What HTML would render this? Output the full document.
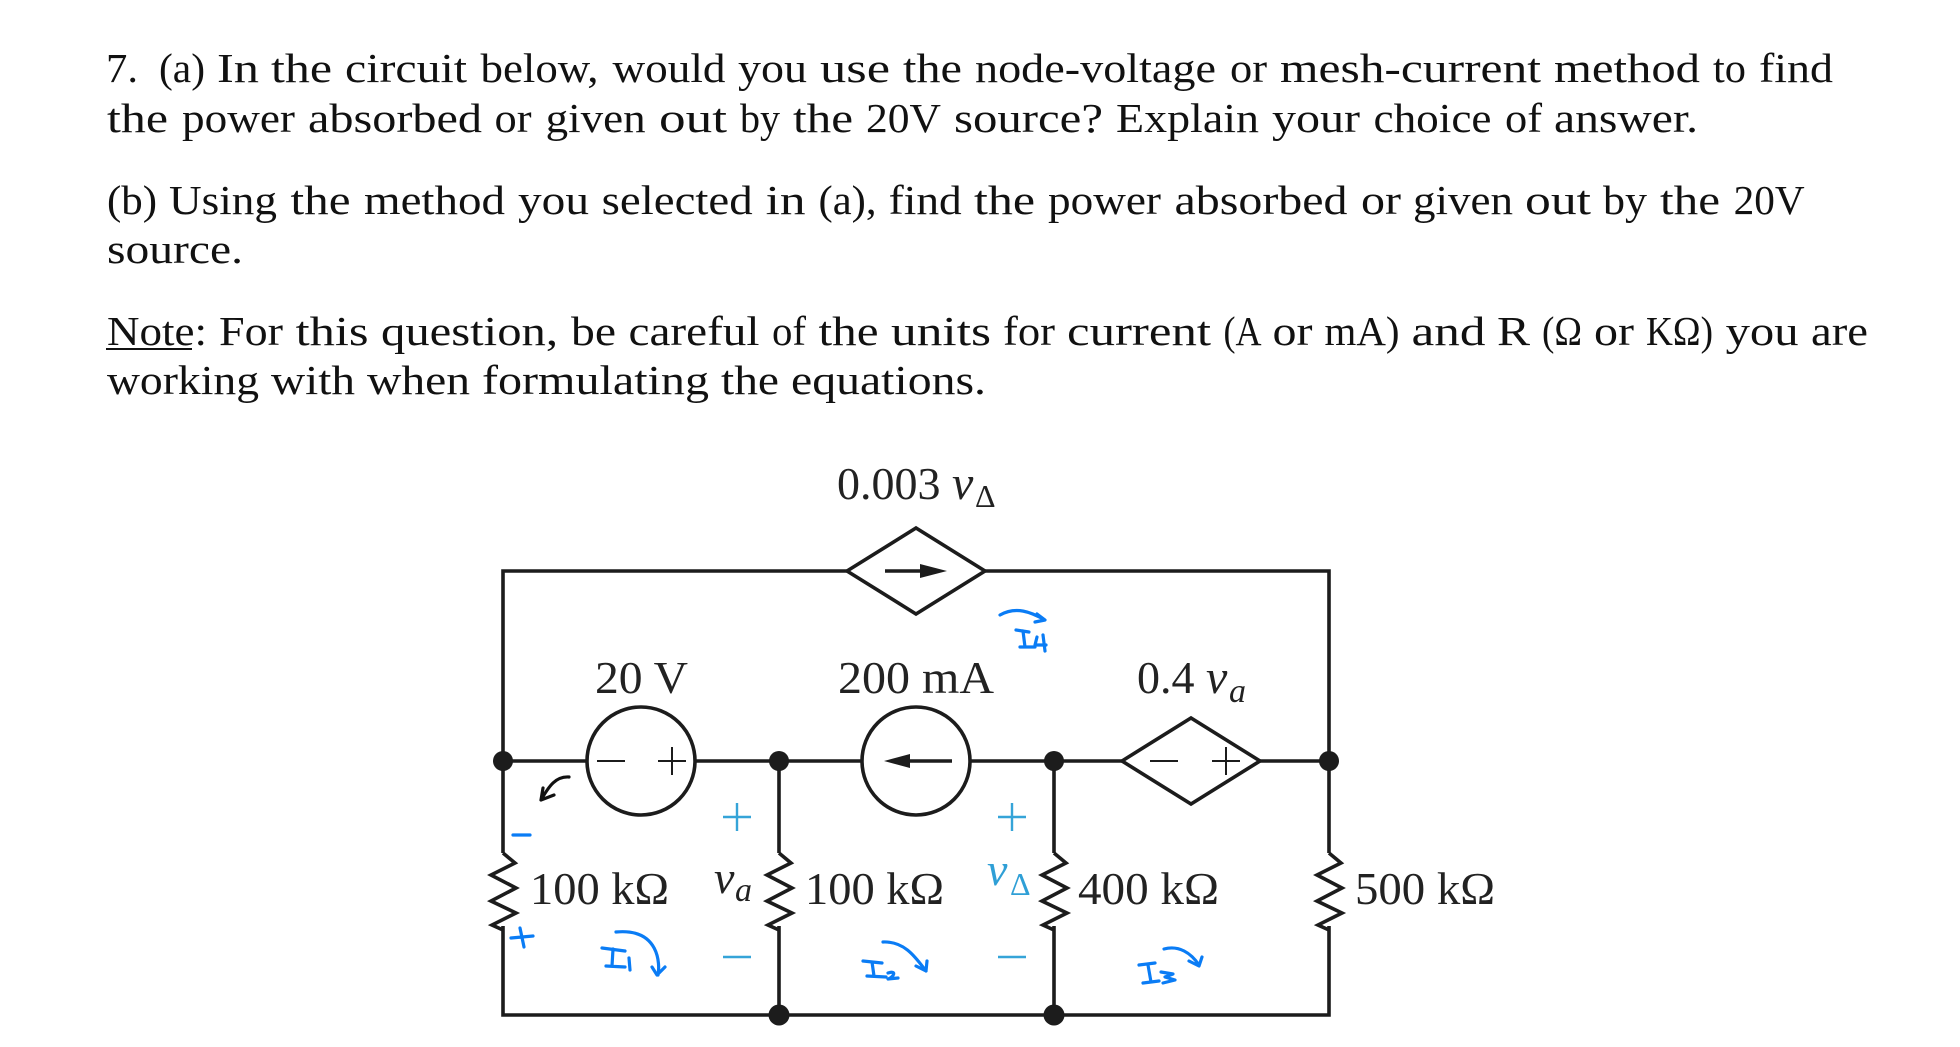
<!DOCTYPE html>
<html><head><meta charset="utf-8"><style>
html,body{margin:0;padding:0;background:#fff;width:1960px;height:1047px;overflow:hidden}
svg{display:block}
.q{font-family:"Liberation Serif",serif;font-size:41px;fill:#111}
.c{font-family:"Liberation Serif",serif;font-size:46px;fill:#222}
.i{font-style:italic}
.w{fill:none;stroke:#1c1c1c;stroke-width:3.6;stroke-linejoin:miter}
.t{fill:none;stroke:#1c1c1c;stroke-width:2}
.h{fill:none;stroke:#0a7cf5;stroke-width:3.2;stroke-linecap:round;stroke-linejoin:round}
.p{fill:none;stroke:#35a4d8;stroke-width:2.4}
</style></head><body>
<svg width="1960" height="1047" viewBox="0 0 1960 1047" xmlns="http://www.w3.org/2000/svg">
<rect width="1960" height="1047" fill="#fff"/>
<g class="q" lengthAdjust="spacingAndGlyphs">
<text y="82" x="106" textLength="32" lengthAdjust="spacingAndGlyphs">7.</text>
<text y="82" x="159" textLength="46" lengthAdjust="spacingAndGlyphs">(a)</text>
<text y="82" x="217" textLength="42" lengthAdjust="spacingAndGlyphs">In</text>
<text y="82" x="271" textLength="61" lengthAdjust="spacingAndGlyphs">the</text>
<text y="82" x="345" textLength="122" lengthAdjust="spacingAndGlyphs">circuit</text>
<text y="82" x="480.5" textLength="118" lengthAdjust="spacingAndGlyphs">below,</text>
<text y="82" x="612.5" textLength="113" lengthAdjust="spacingAndGlyphs">would</text>
<text y="82" x="738" textLength="69" lengthAdjust="spacingAndGlyphs">you</text>
<text y="82" x="820" textLength="70" lengthAdjust="spacingAndGlyphs">use</text>
<text y="82" x="903" textLength="59" lengthAdjust="spacingAndGlyphs">the</text>
<text y="82" x="975" textLength="241" lengthAdjust="spacingAndGlyphs">node-voltage</text>
<text y="82" x="1230" textLength="37" lengthAdjust="spacingAndGlyphs">or</text>
<text y="82" x="1280" textLength="261" lengthAdjust="spacingAndGlyphs">mesh-current</text>
<text y="82" x="1554" textLength="146" lengthAdjust="spacingAndGlyphs">method</text>
<text y="82" x="1713" textLength="33" lengthAdjust="spacingAndGlyphs">to</text>
<text y="82" x="1759" textLength="74" lengthAdjust="spacingAndGlyphs">find</text>

<text y="132" x="107" textLength="61" lengthAdjust="spacingAndGlyphs">the</text>
<text y="132" x="182" textLength="113" lengthAdjust="spacingAndGlyphs">power</text>
<text y="132" x="308" textLength="174" lengthAdjust="spacingAndGlyphs">absorbed</text>
<text y="132" x="494.5" textLength="37" lengthAdjust="spacingAndGlyphs">or</text>
<text y="132" x="545.6" textLength="100" lengthAdjust="spacingAndGlyphs">given</text>
<text y="132" x="659" textLength="68" lengthAdjust="spacingAndGlyphs">out</text>
<text y="132" x="740" textLength="40" lengthAdjust="spacingAndGlyphs">by</text>
<text y="132" x="793" textLength="60" lengthAdjust="spacingAndGlyphs">the</text>
<text y="132" x="866" textLength="75" lengthAdjust="spacingAndGlyphs">20V</text>
<text y="132" x="954" textLength="149" lengthAdjust="spacingAndGlyphs">source?</text>
<text y="132" x="1116" textLength="143" lengthAdjust="spacingAndGlyphs">Explain</text>
<text y="132" x="1272" textLength="88" lengthAdjust="spacingAndGlyphs">your</text>
<text y="132" x="1373.5" textLength="118" lengthAdjust="spacingAndGlyphs">choice</text>
<text y="132" x="1505" textLength="37" lengthAdjust="spacingAndGlyphs">of</text>
<text y="132" x="1554" textLength="144" lengthAdjust="spacingAndGlyphs">answer.</text>

<text y="214" x="107" textLength="50" lengthAdjust="spacingAndGlyphs">(b)</text>
<text y="214" x="169" textLength="108" lengthAdjust="spacingAndGlyphs">Using</text>
<text y="214" x="290.5" textLength="60" lengthAdjust="spacingAndGlyphs">the</text>
<text y="214" x="364" textLength="141" lengthAdjust="spacingAndGlyphs">method</text>
<text y="214" x="518" textLength="71" lengthAdjust="spacingAndGlyphs">you</text>
<text y="214" x="601.7" textLength="151" lengthAdjust="spacingAndGlyphs">selected</text>
<text y="214" x="765.6" textLength="40" lengthAdjust="spacingAndGlyphs">in</text>
<text y="214" x="818.5" textLength="58" lengthAdjust="spacingAndGlyphs">(a),</text>
<text y="214" x="888.7" textLength="73" lengthAdjust="spacingAndGlyphs">find</text>
<text y="214" x="974" textLength="61" lengthAdjust="spacingAndGlyphs">the</text>
<text y="214" x="1048" textLength="113" lengthAdjust="spacingAndGlyphs">power</text>
<text y="214" x="1174.5" textLength="173" lengthAdjust="spacingAndGlyphs">absorbed</text>
<text y="214" x="1361" textLength="40" lengthAdjust="spacingAndGlyphs">or</text>
<text y="214" x="1413" textLength="100" lengthAdjust="spacingAndGlyphs">given</text>
<text y="214" x="1525" textLength="66" lengthAdjust="spacingAndGlyphs">out</text>
<text y="214" x="1603" textLength="44" lengthAdjust="spacingAndGlyphs">by</text>
<text y="214" x="1660" textLength="60" lengthAdjust="spacingAndGlyphs">the</text>
<text y="214" x="1733.6" textLength="71" lengthAdjust="spacingAndGlyphs">20V</text>

<text y="263" x="107" textLength="136" lengthAdjust="spacingAndGlyphs">source.</text>

<text y="345" x="107" textLength="100" lengthAdjust="spacingAndGlyphs">Note:</text>
<text y="345" x="219" textLength="64" lengthAdjust="spacingAndGlyphs">For</text>
<text y="345" x="295.6" textLength="73" lengthAdjust="spacingAndGlyphs">this</text>
<text y="345" x="381" textLength="177" lengthAdjust="spacingAndGlyphs">question,</text>
<text y="345" x="571" textLength="45" lengthAdjust="spacingAndGlyphs">be</text>
<text y="345" x="628.5" textLength="131" lengthAdjust="spacingAndGlyphs">careful</text>
<text y="345" x="772" textLength="34" lengthAdjust="spacingAndGlyphs">of</text>
<text y="345" x="818.5" textLength="60" lengthAdjust="spacingAndGlyphs">the</text>
<text y="345" x="891" textLength="100" lengthAdjust="spacingAndGlyphs">units</text>
<text y="345" x="1003" textLength="52" lengthAdjust="spacingAndGlyphs">for</text>
<text y="345" x="1067" textLength="144" lengthAdjust="spacingAndGlyphs">current</text>
<text y="345" x="1223.5" textLength="38" lengthAdjust="spacingAndGlyphs">(A</text>
<text y="345" x="1272.5" textLength="40" lengthAdjust="spacingAndGlyphs">or</text>
<text y="345" x="1324.5" textLength="75" lengthAdjust="spacingAndGlyphs">mA)</text>
<text y="345" x="1411.5" textLength="74" lengthAdjust="spacingAndGlyphs">and</text>
<text y="345" x="1497" textLength="33" lengthAdjust="spacingAndGlyphs">R</text>
<text y="345" x="1542" textLength="40" lengthAdjust="spacingAndGlyphs">(Ω</text>
<text y="345" x="1594" textLength="40" lengthAdjust="spacingAndGlyphs">or</text>
<text y="345" x="1646" textLength="67" lengthAdjust="spacingAndGlyphs">KΩ)</text>
<text y="345" x="1725.6" textLength="73" lengthAdjust="spacingAndGlyphs">you</text>
<text y="345" x="1811" textLength="57" lengthAdjust="spacingAndGlyphs">are</text>

<text y="394" x="107" textLength="152" lengthAdjust="spacingAndGlyphs">working</text>
<text y="394" x="271" textLength="84" lengthAdjust="spacingAndGlyphs">with</text>
<text y="394" x="367" textLength="103" lengthAdjust="spacingAndGlyphs">when</text>
<text y="394" x="482" textLength="227" lengthAdjust="spacingAndGlyphs">formulating</text>
<text y="394" x="721" textLength="58" lengthAdjust="spacingAndGlyphs">the</text>
<text y="394" x="791" textLength="195" lengthAdjust="spacingAndGlyphs">equations.</text>
</g>
<line x1="106" y1="349" x2="192" y2="349" stroke="#111" stroke-width="2"/>

<path class="w" d="M847 571H503V853M985 571H1329V853M503 926V1015H1329V926M503 761H587M695 761H862M970 761H1122M1260 761H1329M779 761V853M779 926V1015M1054 761V853M1054 926V1015"/>
<path class="w" d="M503 853l12 10-24 12 25 13-25 13 25 12-24 12 11 5"/>
<path class="w" d="M779 853l12 10-24 12 25 13-25 13 25 12-24 12 11 5"/>
<path class="w" d="M1054 853l12 10-24 12 25 13-25 13 25 12-24 12 11 5"/>
<path class="w" d="M1329 853l12 10-24 12 25 13-25 13 25 12-24 12 11 5"/>
<polygon class="w" points="847,571 916,528 985,571 916,614"/>
<polygon class="w" points="1122,761 1191,718 1260,761 1191,804"/>
<circle class="w" cx="641" cy="761" r="54"/>
<circle class="w" cx="916" cy="761" r="54"/>
<path class="w" d="M885 571H925M952 761H905"/>
<polygon points="920,564 947,571 920,578" fill="#1c1c1c"/>
<polygon points="884,761 910,754 910,768" fill="#1c1c1c"/>
<path class="t" d="M597 761H625M658 761H686M672 747V775M1150 761H1178M1212 761H1240M1226 747V775"/>
<g fill="#1c1c1c">
<circle cx="503" cy="761" r="10"/><circle cx="779" cy="761" r="10"/><circle cx="1054" cy="761" r="10"/><circle cx="1329" cy="761" r="10"/><circle cx="779" cy="1015" r="10.5"/><circle cx="1054" cy="1015" r="10.5"/>
</g>

<text class="c" x="837" y="499">0.003 <tspan class="i" style="font-size:48px">v</tspan></text>
<text class="c" x="975" y="507" style="font-size:32px">Δ</text>
<text class="c" x="595" y="693" textLength="93" lengthAdjust="spacingAndGlyphs">20 V</text>
<text class="c" x="838" y="693" textLength="156" lengthAdjust="spacingAndGlyphs">200 mA</text>
<text class="c" x="1137" y="693">0.4 <tspan class="i" style="font-size:48px">v</tspan></text>
<text class="c i" x="1229" y="702" style="font-size:34px">a</text>
<text class="c" x="530" y="904" textLength="139" lengthAdjust="spacingAndGlyphs">100 kΩ</text>
<text class="c" x="805" y="904" textLength="139" lengthAdjust="spacingAndGlyphs">100 kΩ</text>
<text class="c" x="1078" y="904" textLength="141" lengthAdjust="spacingAndGlyphs">400 kΩ</text>
<text class="c" x="1355" y="904" textLength="140" lengthAdjust="spacingAndGlyphs">500 kΩ</text>
<text class="c i" x="714" y="893" style="font-size:46px">v</text>
<text class="c i" x="735" y="901" style="font-size:34px">a</text>
<text class="c i" x="987" y="885" style="font-size:46px;fill:#2f9fd6">v</text>
<text x="1010" y="895" style="font:32px 'Liberation Serif',serif;fill:#2f9fd6">Δ</text>

<path class="p" d="M723 817H751M737 803V831M723 957H751M998 817H1026M1012 803V831M998 957H1026"/>

<path d="M569 777C556 776 549 786 541 800M543 788L541 800L554 795" fill="none" stroke="#111" stroke-width="3.2" stroke-linecap="round" stroke-linejoin="round"/>
<path class="h" d="M513 835H530M511 938L533 936M520 928L524 947"/>
<path class="h" d="M602 948L625 951M613 949L612 966M606 966L625 967M629 958L630 970M616 932C660 928 660 965 658 975M652 967L657 975L665 967"/>
<path class="h" d="M863 961L882 963M872 962L874 976M867 976L886 977M888 973C897 970 894 977 888 979L898 978M883 942C905 941 916 958 926 971M927 961L926 971L916 966"/>
<path class="h" d="M1139 965L1155 963M1148 965L1151 982M1143 983L1159 981M1161 972L1173 974L1165 977L1175 980L1163 983M1164 949C1179 945 1191 953 1199 965M1189 961L1199 966L1202 957"/>
<path class="h" d="M1000 615C1016 606 1031 612 1045 620M1037 614L1045 620L1035 622M1016 630L1029 632M1023 631L1025 647M1020 647L1035 647M1037 637L1035 645L1046 645M1043 635L1045 651"/>
</svg>
</body></html>
